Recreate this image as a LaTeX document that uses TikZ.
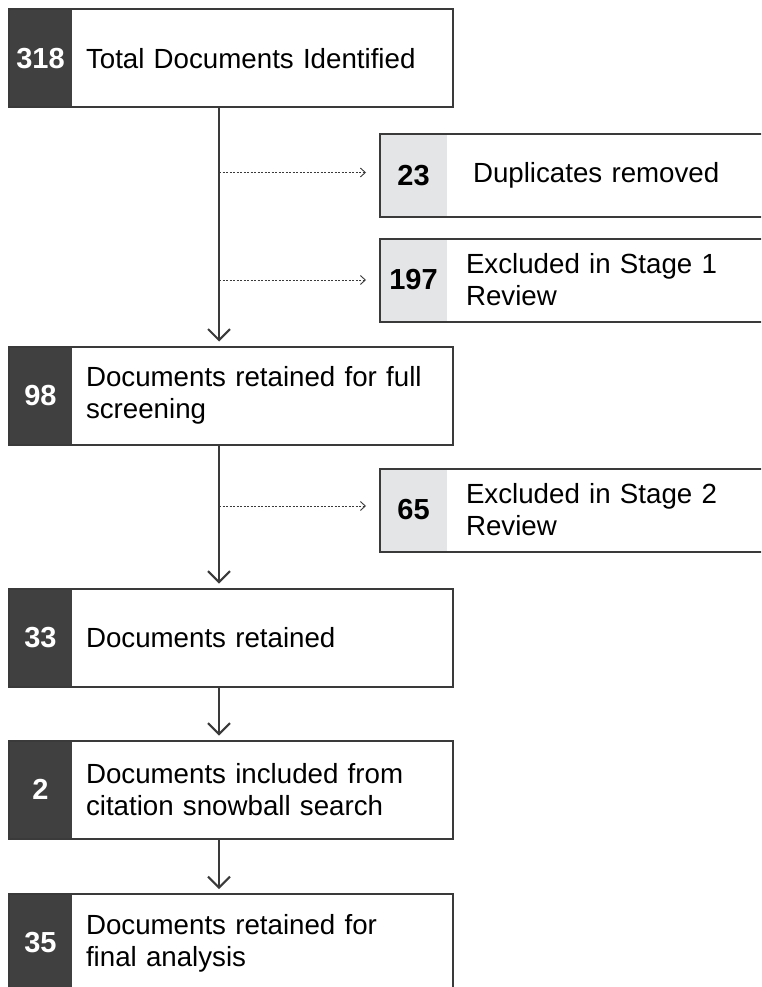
\documentclass[tikz,border=0pt]{standalone}
\usepackage{fontspec}
\setmainfont{Liberation Sans}
\usetikzlibrary{arrows.meta, positioning}
\definecolor{numdark}{HTML}{404040}
\definecolor{numlight}{HTML}{E4E5E7}
\definecolor{edgegray}{HTML}{3A3A3A}

\begin{document}
\begin{tikzpicture}[
  x=1pt, y=-1pt,
  >={Straight Barb[length=11pt, width=22pt]},
  every node/.style={font=\fontsize{27.7}{32}\selectfont, outer sep=0pt},
  darknum/.style={fill=numdark, text=white, font=\fontsize{29}{32}\selectfont\bfseries,
    minimum width=63pt, minimum height=98pt, inner sep=0pt, anchor=north west},
  lightnum/.style={fill=numlight, text=black, font=\fontsize{29}{32}\selectfont\bfseries,
    minimum width=67pt, minimum height=83pt, inner sep=0pt, anchor=north west},
  mainbody/.style={fill=white, minimum height=98pt, text width=353pt,
    inner xsep=14pt, inner ysep=0pt, align=left},
  sidebody/.style={fill=white, minimum height=83pt, text width=305pt,
    inner xsep=19pt, inner ysep=0pt, align=left},
  frame/.style={draw=edgegray, line width=2pt},
  flow/.style={->, draw=edgegray, line width=2pt, shorten >=5pt},
  skip/.style={-{Straight Barb[length=5pt, width=9pt]}, draw=edgegray, line width=0.9pt,
    dash pattern=on 2pt off 1.5pt, shorten >=14pt}
]
\useasboundingbox (0,0) rectangle (761,987);
\clip (0,0) rectangle (761,987);
\coordinate (spine) at (219,0);

\node[darknum] (n318) at (9,9.5) {318};
\node[mainbody, right=0pt of n318] (t318) {Total Documents Identified};
\draw[frame] (n318.north west) rectangle (t318.south east);

\node[lightnum] (n23) at (380,134) {23};
\node[sidebody, right=0pt of n23] (t23) {\hspace{7pt}Duplicates removed};
\draw[frame] (n23.north west) rectangle (t23.south east);

\node[lightnum] (n197) at (380,238.5) {197};
\node[sidebody, right=0pt of n197] (t197) {Excluded in Stage 1\\Review};
\draw[frame] (n197.north west) rectangle (t197.south east);

\node[darknum] (n98) at (9,346.5) {98};
\node[mainbody, right=0pt of n98] (t98) {Documents retained for full\\screening};
\draw[frame] (n98.north west) rectangle (t98.south east);

\node[lightnum] (n65) at (380,468.5) {65};
\node[sidebody, right=0pt of n65] (t65) {Excluded in Stage 2\\Review};
\draw[frame] (n65.north west) rectangle (t65.south east);

\node[darknum] (n33) at (9,588.5) {33};
\node[mainbody, right=0pt of n33] (t33) {Documents retained};
\draw[frame] (n33.north west) rectangle (t33.south east);

\node[darknum] (n2) at (9,740.5) {2};
\node[mainbody, right=0pt of n2] (t2) {Documents included from\\citation snowball search};
\draw[frame] (n2.north west) rectangle (t2.south east);

\node[darknum] (n35) at (9,894) {35};
\node[mainbody, right=0pt of n35] (t35) {Documents retained for\\final analysis};
\draw[frame] (n35.north west) rectangle (t35.south east);

\draw[flow] (spine |- t318.south) -- (spine |- t98.north);
\draw[flow] (spine |- t98.south) -- (spine |- t33.north);
\draw[flow] (spine |- t33.south) -- (spine |- t2.north);
\draw[flow] (spine |- t2.south) -- (spine |- t35.north);
\draw[skip] ([yshift=3pt]spine |- n23.west) -- ([yshift=3pt]n23.west);
\draw[skip] (spine |- n197.west) -- (n197.west);
\draw[skip] ([yshift=4pt]spine |- n65.west) -- ([yshift=4pt]n65.west);
\end{tikzpicture}
\end{document}
